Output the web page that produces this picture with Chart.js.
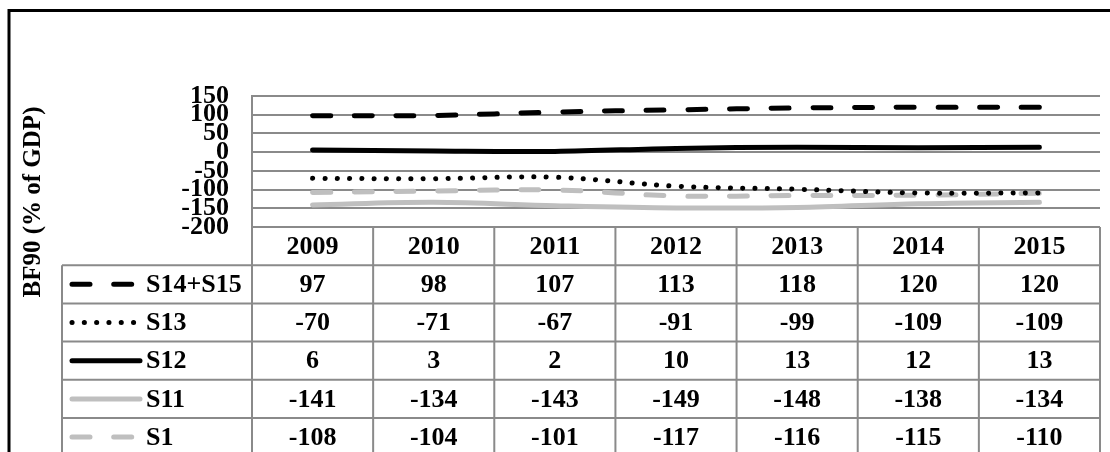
<!DOCTYPE html>
<html>
<head>
<meta charset="utf-8">
<script src="https://cdn.jsdelivr.net/npm/chart.js@4.4.0/dist/chart.umd.min.js"></script>
<style>
  html, body { margin: 0; padding: 0; background: #fff; }
</style>
</head>
<body>
<canvas id="chart" width="1110" height="452"></canvas>
<script>
// Data
const years = ['2009', '2010', '2011', '2012', '2013', '2014', '2015'];
const s1415 = [97, 98, 107, 113, 118, 120, 120];
const s13 = [-70, -71, -67, -91, -99, -109, -109];
const s12 = [6, 3, 2, 10, 13, 12, 13];
const s11 = [-141, -134, -143, -149, -148, -138, -134];
const s1 = [-108, -104, -101, -117, -116, -115, -110];
const yTicks = [150, 100, 50, 0, -50, -100, -150, -200];
const yTitle = 'BF90 (% of GDP)';

const FONT = '"Liberation Serif", "Times New Roman", serif';
const GRID = '#8a8a8a';
const BLACK = '#000000';
const LIGHT = '#bfbfbf';
const DASH = [18, 23.7];
const DOT = [0.1, 12.2];

Chart.defaults.font.family = FONT;
Chart.defaults.color = '#000';

// data table + legend keys + axis title + outer frame
const tablePlugin = {
  id: 'dataTable',
  afterDraw(chart) {
    const { ctx, chartArea } = chart;
    const x = chart.scales.x;
    const top = chartArea.bottom;
    const rowH = 38.2;
    const legendLeft = 62;
    const bottom = chart.height + 5;
    const bounds = [chartArea.left];
    for (let i = 0; i < years.length - 1; i++) {
      bounds.push((x.getPixelForValue(i) + x.getPixelForValue(i + 1)) / 2);
    }
    bounds.push(chartArea.right);

    ctx.save();
    ctx.strokeStyle = GRID;
    ctx.lineWidth = 2;
    ctx.beginPath();
    for (let r = 1; r <= chart.data.datasets.length + 1; r++) {
      const y = top + rowH * r;
      ctx.moveTo(legendLeft, y);
      ctx.lineTo(chartArea.right, y);
    }
    for (const bx of bounds) {
      ctx.moveTo(bx, top);
      ctx.lineTo(bx, bottom);
    }
    ctx.moveTo(legendLeft, top + rowH);
    ctx.lineTo(legendLeft, bottom);
    ctx.stroke();

    ctx.fillStyle = '#000';
    ctx.font = `bold 26px ${FONT}`;
    ctx.textBaseline = 'middle';
    ctx.textAlign = 'center';
    years.forEach((yr, i) => {
      ctx.fillText(yr, x.getPixelForValue(i), top + rowH / 2 + 1);
    });

    chart.data.datasets.forEach((ds, r) => {
      const cy = top + rowH * (r + 1.5);
      ctx.textAlign = 'center';
      ds.data.forEach((v, i) => {
        ctx.fillText(String(v), x.getPixelForValue(i), cy + 1);
      });
      // legend key
      ctx.save();
      ctx.strokeStyle = ds.borderColor;
      ctx.lineWidth = ds.borderWidth;
      ctx.lineCap = 'round';
      ctx.setLineDash(ds.borderDash || []);
      ctx.beginPath();
      ctx.moveTo(72, cy);
      ctx.lineTo(140, cy);
      ctx.stroke();
      ctx.restore();
      ctx.textAlign = 'left';
      ctx.fillText(ds.label, 146, cy + 1);
    });

    // y axis title
    ctx.save();
    ctx.font = `bold 25px ${FONT}`;
    ctx.translate(40, 202);
    ctx.rotate(-Math.PI / 2);
    ctx.textAlign = 'center';
    ctx.textBaseline = 'alphabetic';
    ctx.fillText(yTitle, 0, 0);
    ctx.restore();

    // outer frame
    ctx.strokeStyle = '#000';
    ctx.lineWidth = 3;
    ctx.strokeRect(9, 10.5, 1300, 600);
    ctx.restore();
  },
};

const ctx = document.getElementById('chart');

// eslint-disable-next-line no-undef, no-unused-vars
const chart = new Chart(ctx, {
  type: 'line',
  data: {
    labels: years,
    datasets: [
      { label: 'S14+S15', data: s1415, borderColor: BLACK, borderWidth: 5, borderDash: DASH },
      { label: 'S13', data: s13, borderColor: BLACK, borderWidth: 5, borderDash: DOT },
      { label: 'S12', data: s12, borderColor: BLACK, borderWidth: 5 },
      { label: 'S11', data: s11, borderColor: LIGHT, borderWidth: 5 },
      { label: 'S1', data: s1, borderColor: LIGHT, borderWidth: 5, borderDash: DASH },
    ].map((d) => ({
      ...d,
      pointRadius: 0,
      tension: 0.35,
      fill: false,
      borderCapStyle: 'round',
      borderJoinStyle: 'round',
    })),
  },
  options: {
    responsive: false,
    animation: false,
    layout: {
      padding: { left: 0, right: 10, top: 96, bottom: 225 },
    },
    plugins: {
      legend: { display: false },
      title: { display: false },
      tooltip: { enabled: false },
    },
    scales: {
      x: {
        display: false,
        offset: true,
      },
      y: {
        min: Math.min(...yTicks),
        max: Math.max(...yTicks),
        afterFit: (scale) => { scale.width = 252; },
        ticks: {
          stepSize: 50,
          autoSkip: false,
          padding: 23,
          color: '#000',
          font: { size: 26, weight: 'bold' },
        },
        grid: {
          color: GRID,
          lineWidth: 2,
          drawTicks: false,
        },
        border: {
          display: true,
          color: GRID,
          width: 2,
        },
      },
    },
  },
  plugins: [tablePlugin],
});
</script>
</body>
</html>
